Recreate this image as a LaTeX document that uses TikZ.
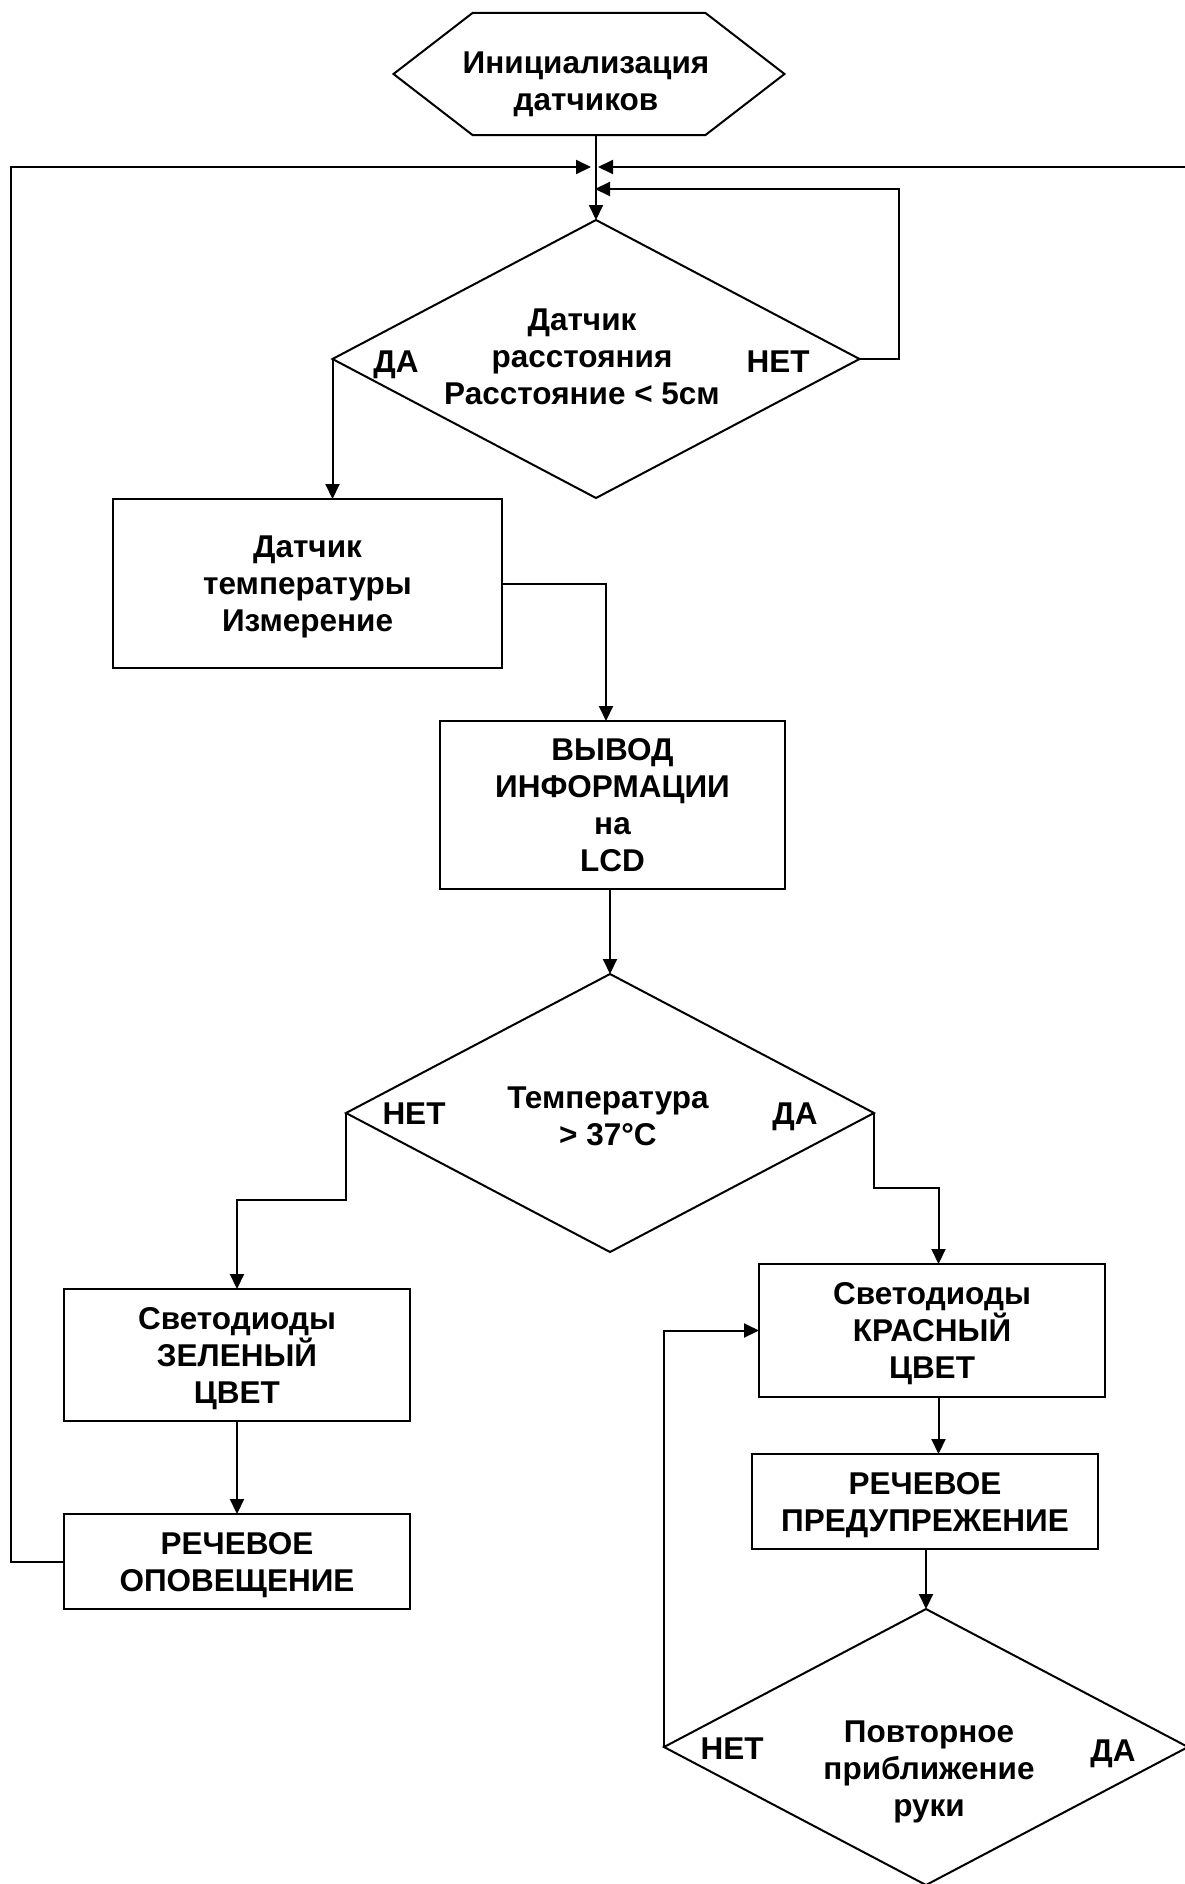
\documentclass[tikz,border=0pt]{standalone}
\usepackage{fontspec}
\setmainfont{Liberation Sans}
\usetikzlibrary{arrows.meta,shapes.geometric,calc}
\begin{document}
\begin{tikzpicture}[x=1pt,y=-1pt,
  every node/.style={font=\fontsize{31.5pt}{37pt}\selectfont\bfseries, align=center, inner sep=0pt, outer sep=0pt, text depth=0pt},
  arr/.style={line width=2pt, -{Triangle[length=15pt,width=14pt]}},
  box/.style={draw, line width=2pt, rectangle},
  dia/.style={draw, line width=2pt, diamond},
  lbl/.style={anchor=base}
]
\fill[white] (0,0) rectangle (1184,1884);
\useasboundingbox (0,0) rectangle (1184,1884);

% start hexagon
\node (init) [minimum width=233pt, minimum height=122pt] at (589,74) {};
\draw[line width=2pt, line join=miter] (init.north west) -- (init.north east) -- ($(init.east)+(79,0)$)
  -- (init.south east) -- (init.south west) -- ($(init.west)+(-79,0)$) -- cycle;
\node (initt) at (586,81) {Инициализация\\датчиков};

% decision 1
\node (d1) [dia, minimum width=527pt, minimum height=278pt] at (596,359) {};
\node (d1t) at (582,357) {Датчик\\расстояния\\Расстояние < 5см};
\node (d1y) [lbl] at (396,372) {ДА};
\node (d1n) [lbl] at (778,372) {НЕТ};

% boxes
\node (r1) [box, minimum width=389pt, minimum height=169pt] at (307.5,583.5) {Датчик\\температуры\\Измерение};
\node (r2) [box, minimum width=345pt, minimum height=168pt] at (612.5,805) {ВЫВОД\\ИНФОРМАЦИИ\\на\\LCD};

% decision 2
\node (d2) [dia, minimum width=528pt, minimum height=278pt] at (610,1113) {};
\node (d2t) at (608,1116) {Температура\\> 37°C};
\node (d2n) [lbl] at (414,1124) {НЕТ};
\node (d2y) [lbl] at (795,1124) {ДА};

\node (r3) [box, minimum width=346pt, minimum height=132pt] at (237,1355) {Светодиоды\\ЗЕЛЕНЫЙ\\ЦВЕТ};
\node (r4) [box, minimum width=346pt, minimum height=95pt] at (237,1561.5) {РЕЧЕВОЕ\\ОПОВЕЩЕНИЕ};
\node (r5) [box, minimum width=346pt, minimum height=133pt] at (932,1330.5) {Светодиоды\\КРАСНЫЙ\\ЦВЕТ};
\node (r6) [box, minimum width=346pt, minimum height=95pt] at (925,1501.5) {РЕЧЕВОЕ\\ПРЕДУПРЕЖЕНИЕ};

% decision 3
\node (d3) [dia, minimum width=524pt, minimum height=276pt] at (926,1747) {};
\node (d3t) at (929,1769) {Повторное\\приближение\\руки};
\node (d3n) [lbl] at (732,1759) {НЕТ};
\node (d3y) [lbl] at (1113,1761) {ДА};

% helper coordinates
\coordinate (mL) at (591,167);
\coordinate (mR) at (598,167);
\coordinate (mN) at (595,189);
\coordinate (offR) at (1190,167);
\coordinate (cL) at (11,167);
\coordinate (cN) at (899,189);
\coordinate (r2in) at ($(r2.north)+(-6.5,0)$);
\coordinate (b3) at (346,1200);
\coordinate (b5) at (874,1188);
\coordinate (r5in) at ($(r5.north)+(6.5,0)$);

% connectors
\draw[arr] (d1.north |- init.south) -- (d1.north);
\draw[arr] (r4.west) -| (cL) -- (mL);
\draw[arr] (offR) -- (mR);
\draw[arr] (d1.east) -| (cN) -- (mN);
\draw[arr] (d1.west) -- (d1.west |- r1.north);
\draw[arr] (r1.east) -| (r2in);
\draw[arr] (d2.north |- r2.south) -- (d2.north);
\draw[arr] (d2.west) -- (d2.west |- b3) -| (r3.north);
\draw[arr] (d2.east) -- (d2.east |- b5) -| (r5in);
\draw[arr] (r3.south) -- (r4.north);
\draw[arr] (r5in |- r5.south) -- (r5in |- r6.north);
\draw[arr] (d3.north |- r6.south) -- (d3.north);
\draw[arr] (d3.west) |- (r5.west);
\end{tikzpicture}
\end{document}
